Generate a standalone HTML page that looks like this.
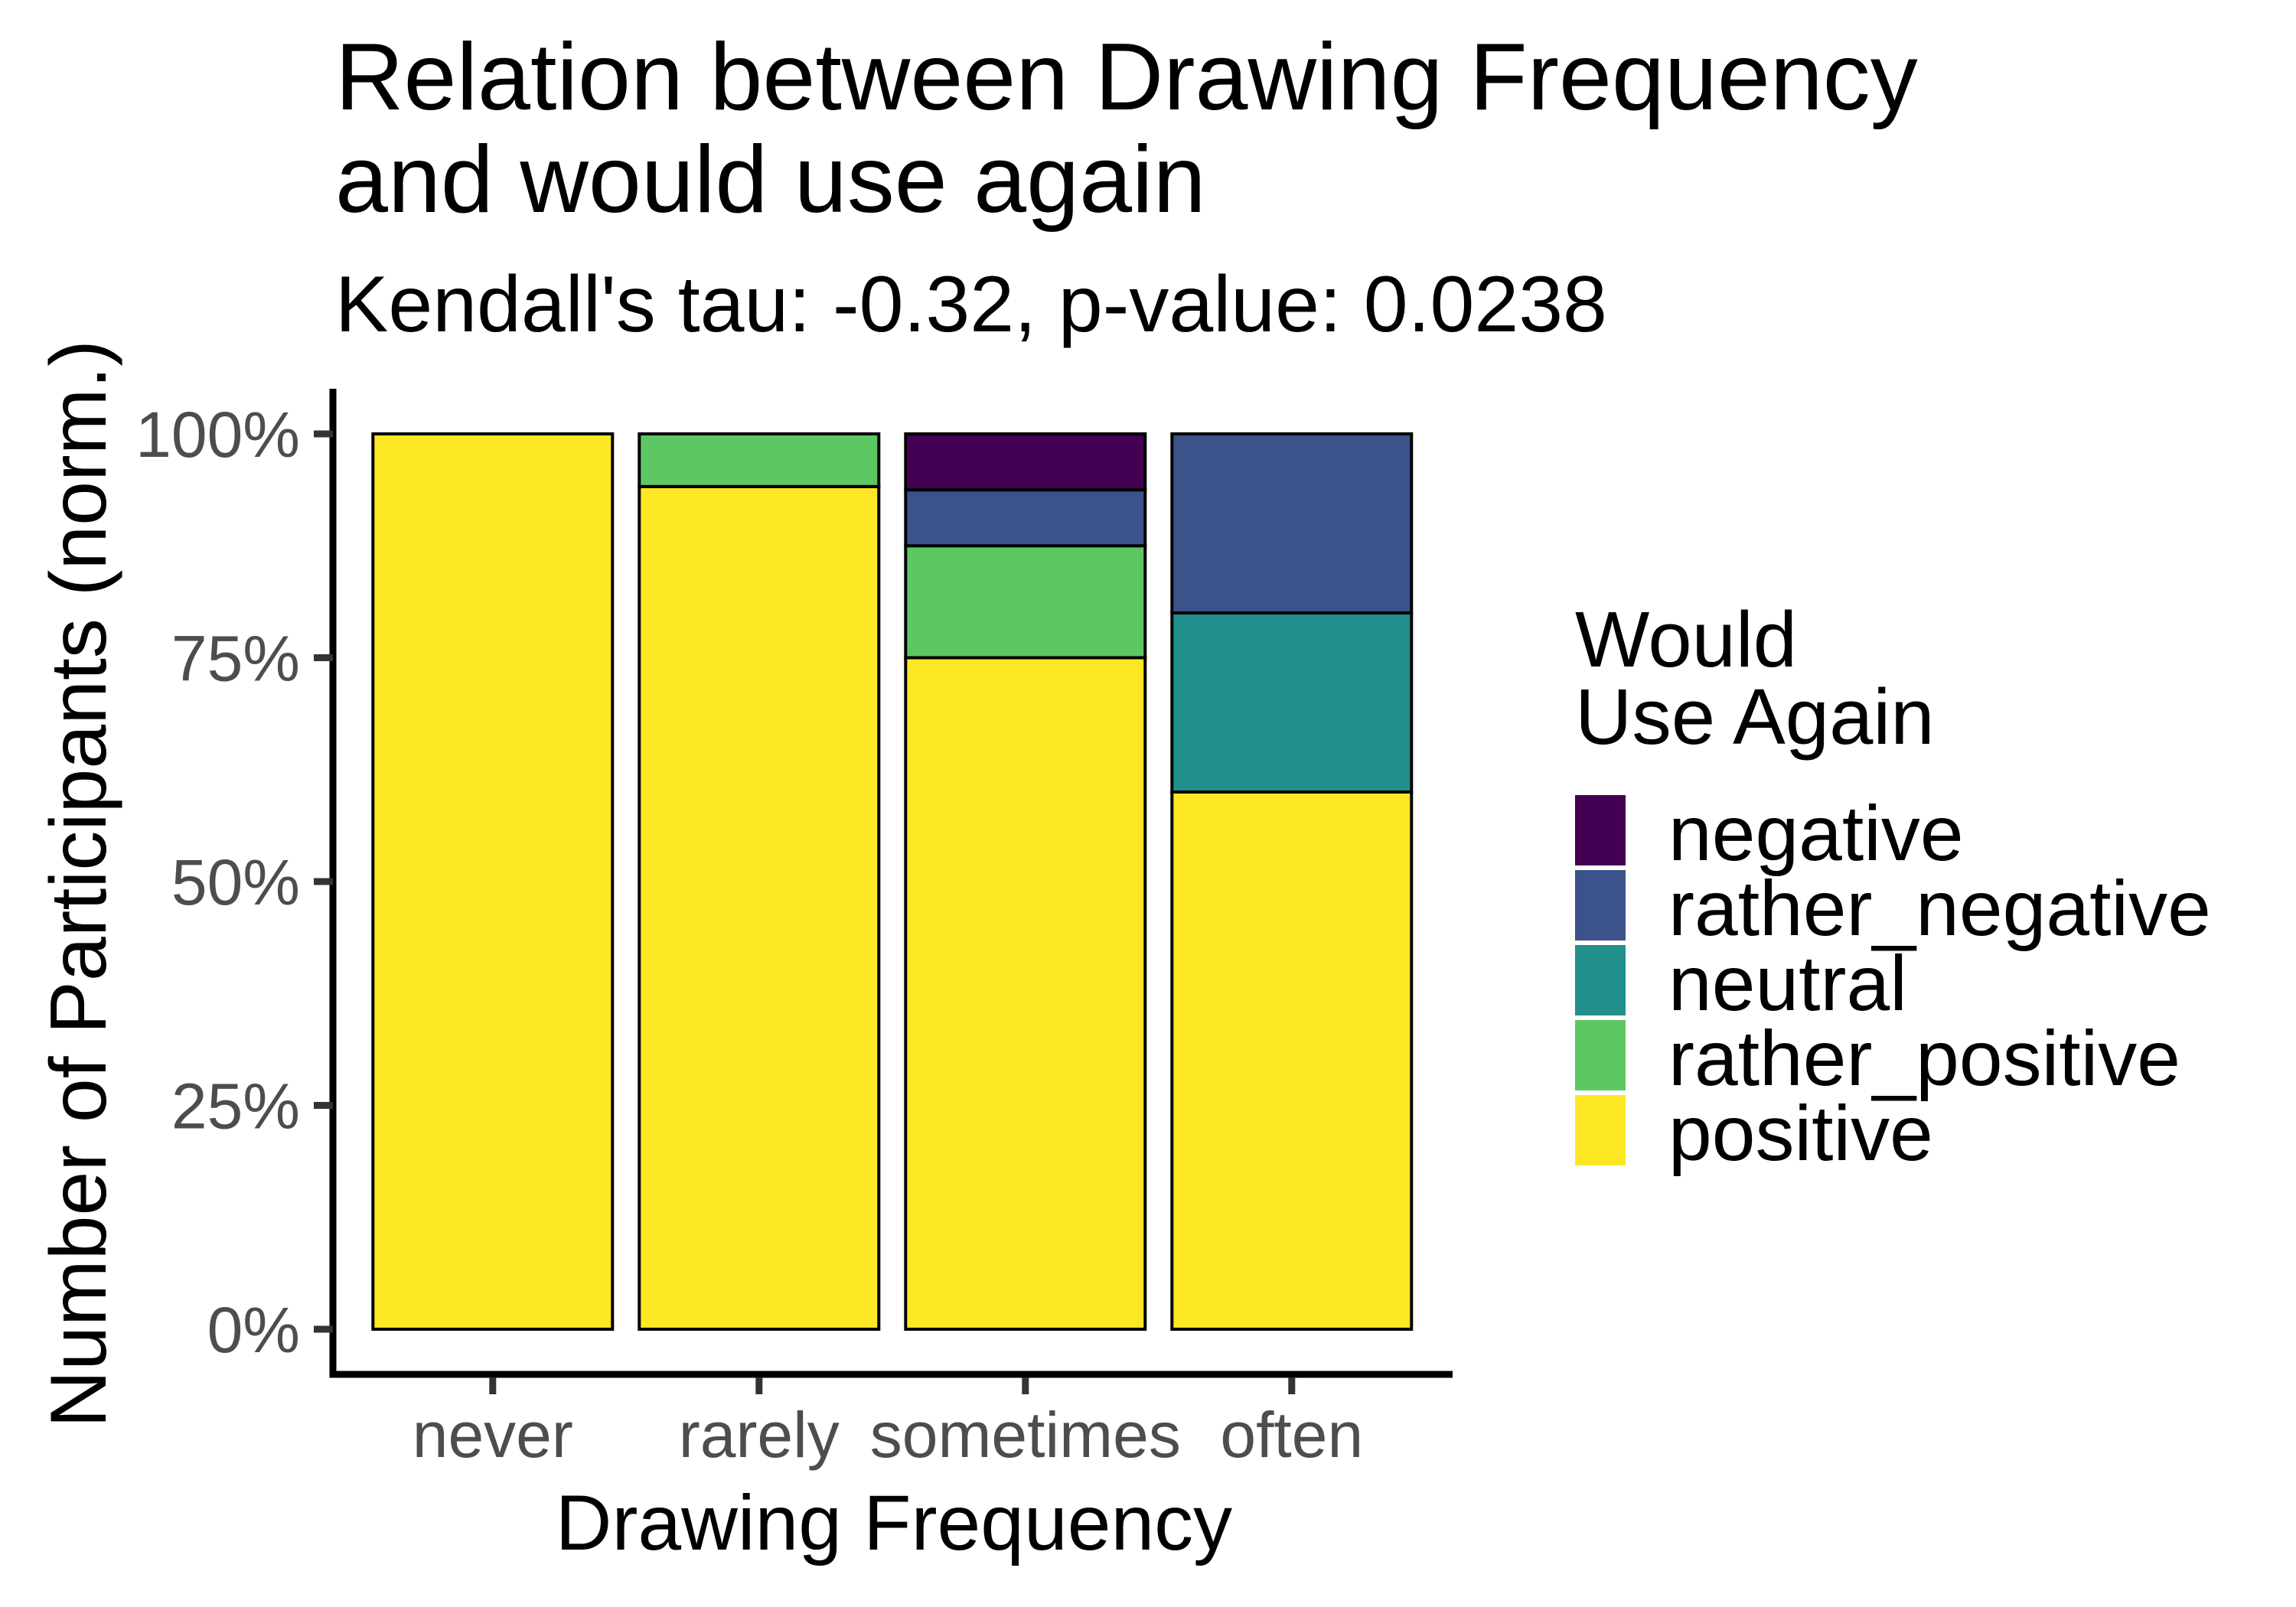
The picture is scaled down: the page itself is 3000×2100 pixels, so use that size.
<!DOCTYPE html>
<html><head><meta charset="utf-8"><style>
html,body{margin:0;padding:0;background:#fff;}
svg{display:block;font-family:"Liberation Sans",Arial,sans-serif;}
</style></head><body>
<svg id="chart" width="3000" height="2100" viewBox="0 0 3000 2100" xmlns="http://www.w3.org/2000/svg">
<text x="438" y="143" font-size="124" fill="#000">Relation between Drawing Frequency</text>
<text x="438" y="277" font-size="124" fill="#000">and would use again</text>
<text x="438" y="433" font-size="104" fill="#000">Kendall's tau: -0.32, p-value: 0.0238</text>
<g id="bars"></g>
<g id="axes"></g>
<text transform="translate(138,1155) rotate(-90)" text-anchor="middle" font-size="104" fill="#000">Number of Participants (norm.)</text>
<text x="1168" y="2025" text-anchor="middle" font-size="102" fill="#000">Drawing Frequency</text>
<text x="2058" y="871" font-size="103" fill="#000">Would</text>
<text x="2058" y="972" font-size="103" fill="#000">Use Again</text>
<g id="legend"></g>
</svg>
<script>
const categories = ["never","rarely","sometimes","often"];
const seriesNames = ["positive","rather_positive","neutral","rather_negative","negative"];
const positive = [1, 16/17, 0.75, 0.6];
const rather_positive = [0, 1/17, 0.125, 0];
const neutral = [0, 0, 0, 0.2];
const rather_negative = [0, 0, 0.0625, 0.2];
const negative = [0, 0, 0.0625, 0];
const yTickValues = [0, 0.25, 0.5, 0.75, 1];
const yTickLabels = ["0%","25%","50%","75%","100%"];
const legendOrder = ["negative","rather_negative","neutral","rather_positive","positive"];

const colors = {negative:"#440154", rather_negative:"#3B528B", neutral:"#21908C", rather_positive:"#5DC863", positive:"#FDE725"};
const seriesData = {positive, rather_positive, neutral, rather_negative, negative};
const NS = "http://www.w3.org/2000/svg";
const X0 = 435, XEND = 1898, Y0 = 1737, Y1 = 567, PITCH = 348, BW = 313;
function xCenter(i){ return X0 + 0.6*PITCH + i*PITCH; }
function yScale(v){ return Y0 - v*(Y0-Y1); }
function mk(tag, attrs){ const e=document.createElementNS(NS,tag); for(const k in attrs) e.setAttribute(k,attrs[k]); return e; }

const bars = document.getElementById('bars');
categories.forEach((c,i)=>{
  let cum = 0;
  seriesNames.forEach(s=>{
    const v = seriesData[s][i];
    if(v<=0) return;
    const yTop = yScale(cum+v), yBot = yScale(cum);
    const r = mk('rect',{x:xCenter(i)-BW/2, y:yTop, width:BW, height:yBot-yTop, fill:colors[s], stroke:'#000', 'stroke-width':4});
    
    
    bars.appendChild(r);
    cum += v;
  });
});

const axes = document.getElementById('axes');
const yl = mk('line',{x1:X0, y1:508, x2:X0, y2:1800, stroke:'#000','stroke-width':9});


axes.appendChild(yl);
const xl = mk('line',{x1:X0-4.5, y1:1796, x2:XEND, y2:1796, stroke:'#000','stroke-width':9});


axes.appendChild(xl);
yTickValues.forEach((v,i)=>{
  const y = yScale(v);
  const t = mk('line',{x1:410, y1:y, x2:X0, y2:y, stroke:'#333','stroke-width':9});
  
  
  axes.appendChild(t);
  const l = mk('text',{x:392, y:y+30, 'text-anchor':'end', 'font-size':84, fill:'#4d4d4d'});
  l.textContent = yTickLabels[i];
  
  
  axes.appendChild(l);
});
categories.forEach((c,i)=>{
  const x = xCenter(i);
  const t = mk('line',{x1:x, y1:1800, x2:x, y2:1822, stroke:'#333','stroke-width':9});
  
  
  axes.appendChild(t);
  const l = mk('text',{x:x, y:1904, 'text-anchor':'middle', 'font-size':84, fill:'#4d4d4d'});
  l.textContent = c;
  
  
  axes.appendChild(l);
});

const legend = document.getElementById('legend');
legendOrder.forEach((s,i)=>{
  const y = 1039 + i*98;
  const k = mk('rect',{x:2058, y:y, width:66, height:92, fill:colors[s]});
  
  
  legend.appendChild(k);
  const l = mk('text',{x:2180, y:y+85, 'font-size':102, fill:'#000'});
  l.textContent = s;
  
  
  legend.appendChild(l);
});
</script>
</body></html>
